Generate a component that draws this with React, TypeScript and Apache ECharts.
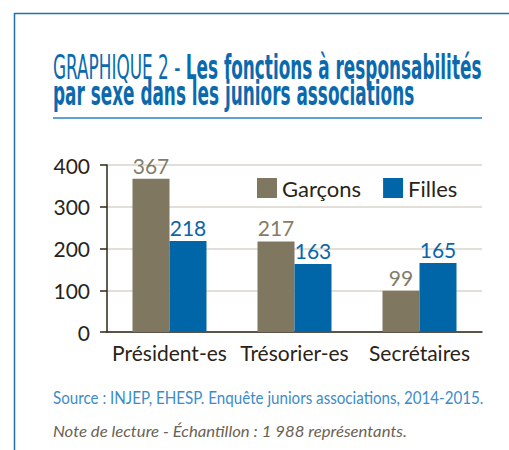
import React, { useEffect, useRef } from "react";
import * as echarts from "echarts";

const categories = ["Président-es", "Trésorier-es", "Secrétaires"];
const garcons = [367, 217, 99];
const filles = [218, 163, 165];
const seriesNames = ["Garçons", "Filles"];
const yTicks = { min: 0, max: 400, interval: 100 };

const titlePrefix = "GRAPHIQUE 2 - ";
const titleLine1 = "Les fonctions à responsabilités";
const titleLine2 = "par sexe dans les juniors associations";
const sourceText = "Source : INJEP, EHESP. Enquête juniors associations, 2014-2015.";
const noteText = "Note de lecture - Échantillon : 1 988 représentants.";

const TITLE_FONT = '"DejaVu Sans Condensed", "Liberation Sans Narrow", "DejaVu Sans", sans-serif';
const BODY_FONT = 'Lato, "Open Sans", sans-serif';

function measure(text: string, font: string): number {
  const c = document.createElement("canvas");
  const ctx = c.getContext("2d")!;
  ctx.font = font;
  return ctx.measureText(text).width;
}

export default function App() {
  const ref = useRef<HTMLDivElement>(null);
  useEffect(() => {
    if (!ref.current) return;
    const chart = echarts.init(ref.current, null, { renderer: "svg" });
    const tSize = 33;
    const w1 =
      measure(titlePrefix, `normal ${tSize}px ${TITLE_FONT}`) +
      measure(titleLine1, `bold ${tSize}px ${TITLE_FONT}`);
    const sx = 429 / w1;
    const srcW = measure(sourceText, `normal 17px ${BODY_FONT}`);
    const srcScale = 431 / srcW;
    const noteW = measure(noteText, `italic 16px ${BODY_FONT}`);
    const noteScale = 354 / noteW;

    chart.setOption({
      animation: false,
      backgroundColor: "#ffffff",
      textStyle: { fontFamily: BODY_FONT },
      grid: { left: 107, right: 27, top: 165, bottom: 118 },
      legend: {
        left: 252,
        top: 172,
        itemWidth: 20,
        itemHeight: 20,
        itemGap: 22,
        icon: "rect",
        textStyle: { fontSize: 22, color: "#2b2318", fontFamily: BODY_FONT },
        data: seriesNames,
      },
      xAxis: {
        type: "category",
        data: categories,
        axisLine: { lineStyle: { color: "#2f2616", width: 1.5 } },
        axisTick: { show: false },
        axisLabel: { fontSize: 21, color: "#2b2318", margin: 10, interval: 0, fontFamily: BODY_FONT },
      },
      yAxis: {
        type: "value",
        min: yTicks.min,
        max: yTicks.max,
        interval: yTicks.interval,
        axisLine: { show: true, lineStyle: { color: "#2f2616", width: 1.5 } },
        axisTick: { show: true, length: 7, lineStyle: { color: "#2f2616", width: 1.5 } },
        axisLabel: { fontSize: 21, color: "#2b2318", margin: 17, fontFamily: BODY_FONT },
        splitLine: { lineStyle: { color: "#d9d4cc", width: 1.5 } },
      },
      series: [
        {
          name: seriesNames[0],
          type: "bar",
          data: garcons,
          barWidth: 37,
          barGap: "0%",
          itemStyle: { color: "#807760" },
          label: { show: true, position: "top", distance: 3, fontSize: 21, color: "#857b69", fontFamily: BODY_FONT },
        },
        {
          name: seriesNames[1],
          type: "bar",
          data: filles,
          barWidth: 37,
          barGap: "0%",
          itemStyle: { color: "#0066a8" },
          label: { show: true, position: "top", distance: 3, fontSize: 21, color: "#0a66aa", fontFamily: BODY_FONT },
        },
      ],
      graphic: [
        { type: "line", shape: { x1: 14, y1: 13.5, x2: 509, y2: 13.5 }, style: { stroke: "#1f6fae", lineWidth: 1.5 } },
        { type: "line", shape: { x1: 14.5, y1: 13, x2: 14.5, y2: 450 }, style: { stroke: "#1f6fae", lineWidth: 1.5 } },
        { type: "line", shape: { x1: 53, y1: 118, x2: 482, y2: 118 }, style: { stroke: "#5ea3cf", lineWidth: 2 } },
        {
          type: "text",
          x: 53,
          y: 84,
          scaleX: sx,
          style: {
            text: `{a|${titlePrefix}}{b|${titleLine1}}`,
            verticalAlign: "bottom",
            rich: {
              a: { fontFamily: TITLE_FONT, fontSize: tSize, fontWeight: "normal", fill: "#0b6aae" },
              b: { fontFamily: TITLE_FONT, fontSize: tSize, fontWeight: "bold", fill: "#0b6aae" },
            },
          },
        },
        {
          type: "text",
          x: 53,
          y: 110,
          scaleX: sx,
          style: {
            text: titleLine2,
            verticalAlign: "bottom",
            fontFamily: TITLE_FONT,
            fontSize: tSize,
            fontWeight: "bold",
            fill: "#0b6aae",
          },
        },
        {
          type: "text",
          x: 53,
          y: 397,
          scaleX: srcScale,
          style: {
            text: sourceText,
            verticalAlign: "middle",
            fontFamily: BODY_FONT,
            fontSize: 17,
            fill: "#3b8ccb",
          },
        },
        {
          type: "text",
          x: 53,
          y: 431,
          scaleX: noteScale,
          style: {
            text: noteText,
            verticalAlign: "middle",
            fontFamily: BODY_FONT,
            fontSize: 16,
            fontStyle: "italic",
            fill: "#6b6253",
          },
        },
      ],
    });
    return () => chart.dispose();
  }, []);
  return <div ref={ref} style={{ width: 509, height: 450, position: "absolute", left: 0, top: 0 }} />;
}
